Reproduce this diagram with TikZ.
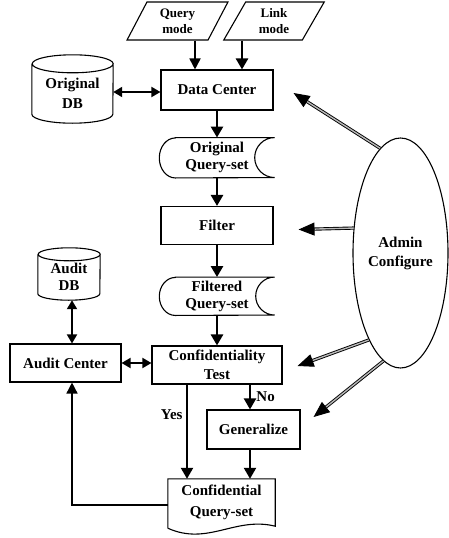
\documentclass[tikz,border=0pt]{standalone}
\usepackage{fontspec}
\setmainfont{Liberation Serif}
\usetikzlibrary{positioning,shapes.geometric,arrows.meta}

\begin{document}
\begin{tikzpicture}[
        x=1pt, y=1pt,
        font=\bfseries\fontsize{15}{17}\selectfont,
        process/.style={rectangle, draw=black, line width=1.1pt, minimum width=112pt, minimum height=40pt, inner sep=2pt, align=center},
        inout/.style={trapezium, trapezium left angle=65, trapezium right angle=115, trapezium stretches=true, draw=black, line width=1.1pt, minimum width=101pt, minimum height=38pt, inner sep=0pt, align=center, font=\bfseries\fontsize{13}{16}\selectfont},
        storeset/.style={minimum width=115pt, minimum height=40pt, inner sep=0pt, align=center},
        dbstore/.style={inner sep=0pt, align=center},
        docset/.style={minimum width=107pt, minimum height=47pt, inner sep=0pt, align=center},
        admin/.style={ellipse, draw=black, line width=1.1pt, minimum width=95pt, minimum height=230pt, inner sep=0pt, align=center},
        outline/.style={draw=black, line width=1.1pt},
        arrow/.style={line width=2.6pt, -{Triangle[length=11pt,width=12pt]}},
        thinarrow/.style={line width=1.8pt, -{Triangle[length=11pt,width=11pt]}},
        biarrow/.style={line width=1.8pt, {Triangle[length=9pt,width=10pt]}-{Triangle[length=9pt,width=10pt]}},
        adminarrow/.style={double=gray!55, double distance=1.4pt, line width=0.9pt, -{Triangle[length=16pt,width=13pt]}}
    ]
        \useasboundingbox (0,0) rectangle (449,-538);

        % --- Input modes ---
        \node (qm) [inout] at (177.5,-21) {Query\\mode};
        \node (lm) [inout] at (274,-21) {Link\\mode};

        % --- Main column ---
        \node (dc) [process] at (217,-90) {Data Center};
        \node (oqs) [storeset, below=27pt of dc] {Original\\Query-set};
        \node (filter) [process, minimum height=38pt, below=28pt of oqs] {Filter};
        \node (fqs) [storeset, minimum height=38pt, below=32pt of filter] {Filtered\\Query-set};
        \node (ct) [process, minimum width=130pt, minimum height=38pt, below=30pt of fqs] {Confidentiality\\[2pt]Test};
        \node (gen) [process, minimum width=93pt, minimum height=39pt] at (253.5,-429.5) {Generalize};
        \node (cqs) [docset] at (221.5,-502.5) {Confidential\\[4pt]Query-set};

        % --- Databases and audit ---
        \node (odb) [dbstore, minimum width=81pt, minimum height=59pt] at (72.5,-93.5) {Original\\[3pt]DB};
        \node (adb) [dbstore, minimum width=62pt, minimum height=45.5pt] at (69,-277.25) {Audit\\DB};
        \node (ac) [process, minimum width=111pt, minimum height=38pt] at (65.5,-363) {Audit Center};

        % --- Admin ---
        \node (ad) [admin] at (400.5,-253) {Admin\\[2pt]Configure};

        % --- Outlines of the special shapes ---
        \draw [outline] ([xshift=16pt]oqs.north west) -- (oqs.north east) arc[start angle=90, end angle=270, radius=20pt]
            -- ([xshift=16pt]oqs.south west) arc[start angle=270, end angle=90, x radius=16pt, y radius=20pt] -- cycle;
        \draw [outline] ([xshift=16pt]fqs.north west) -- (fqs.north east) arc[start angle=90, end angle=270, radius=19pt]
            -- ([xshift=16pt]fqs.south west) arc[start angle=270, end angle=90, x radius=16pt, y radius=19pt] -- cycle;
        \draw [outline] ([yshift=-2pt]cqs.south west) -- (cqs.north west) -- (cqs.north east) -- (cqs.south east)
            .. controls +(-40,10) and +(40,-18) .. ([yshift=-2pt]cqs.south west);
        \draw [outline] (odb.north west) -- ([yshift=9pt]odb.south west) arc[start angle=180, end angle=360, x radius=40.5pt, y radius=9pt]
            -- (odb.north east) arc[start angle=0, end angle=360, x radius=40.5pt, y radius=9pt];
        \draw [outline] (adb.north west) -- ([yshift=6.5pt]adb.south west) arc[start angle=180, end angle=360, x radius=31pt, y radius=6.5pt]
            -- (adb.north east) arc[start angle=0, end angle=360, x radius=31pt, y radius=6.5pt];

        % --- Connections ---
        \draw [thinarrow] ([xshift=17.5pt]qm.south) -- ([xshift=17.5pt]qm.south |- dc.north);
        \draw [arrow] ([xshift=-32pt]lm.south) -- ([xshift=-32pt]lm.south |- dc.north);
        \draw [biarrow] ([yshift=1.5pt]odb.east) -- ([yshift=1.5pt]odb.east -| dc.west);

        \draw [arrow] (dc) -- (oqs);
        \draw [arrow] (oqs) -- (filter);
        \draw [arrow] (filter) -- (fqs);
        \draw [arrow] (fqs) -- (ct);

        \draw [biarrow] ([xshift=3pt]adb.south) -- ([xshift=3pt]adb.south |- ac.north);
        \draw [biarrow] (ac.east) -- (ac.east -| ct.west);

        \draw [arrow, line width=2.2pt] ([xshift=-30pt]ct.south) -- node[left, pos=0.32] {Yes} ([xshift=-30pt]ct.south |- cqs.north);
        \draw [arrow, line width=2.2pt] ([xshift=33pt]ct.south) -- node[right, xshift=2pt] {No} ([xshift=33pt]ct.south |- gen.north);
        \draw [arrow, line width=2.2pt] ([xshift=33pt]ct.south |- gen.south) -- ([xshift=33pt]ct.south |- cqs.north);
        \draw [thinarrow, line width=1.5pt] ([yshift=-2.5pt]cqs.west) -| ([xshift=6.5pt]ac.south);

        % --- Admin configuration ---
        \coordinate (tipdc) at ([xshift=20pt,yshift=-3pt]dc.east);
        \coordinate (tipfi) at ([xshift=25pt,yshift=-4pt]filter.east);
        \coordinate (tipct) at ([xshift=15pt,yshift=-1pt]ct.east);
        \coordinate (tipgen) at ([xshift=13pt,yshift=12.5pt]gen.east);

        \draw [adminarrow] (ad.101) -- (tipdc);
        \draw [adminarrow] (ad.152) -- (tipfi);
        \draw [adminarrow] (ad.250) -- (tipct);
        \draw [adminarrow] (ad.261) -- (tipgen);

    \end{tikzpicture}
\end{document}
